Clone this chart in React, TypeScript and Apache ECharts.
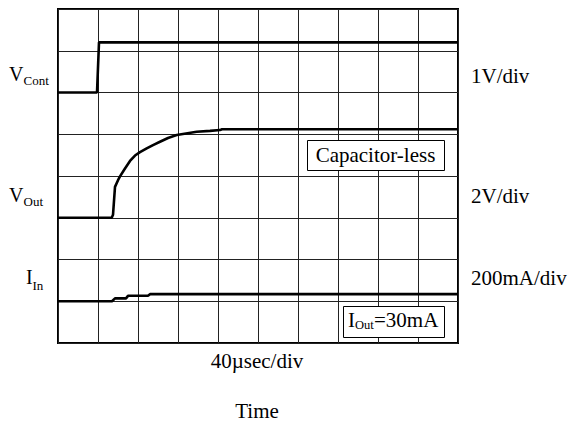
import React, { useEffect, useRef } from "react";
import * as echarts from "echarts";

// Time axis (µs), 40 µs per division, 10 divisions
const timeTicks = [0, 40, 80, 120, 160, 200, 240, 280, 320, 360, 400];
// Vertical axis in screen divisions (8 divisions)
const divTicks = [0, 1, 2, 3, 4, 5, 6, 7, 8];

// V_Cont trace (divisions)
const vContTime = [0, 39, 41, 400];
const vContLevel = [6.0, 6.0, 7.2, 7.2];

// V_Out trace (divisions)
const vOutTime = [0, 53.7, 55, 57, 60, 62, 67, 72, 77, 82, 88.7, 95, 102, 110, 118.7, 128, 138.7, 152, 162, 164, 400];
const vOutLevel = [3.0, 3.0, 3.07, 3.74, 3.9, 3.99, 4.18, 4.36, 4.49, 4.57, 4.66, 4.74, 4.82, 4.91, 4.98, 5.02, 5.06, 5.08, 5.1, 5.12, 5.12];

// I_In trace (divisions)
const iInTime = [0, 54, 57, 68, 70, 90, 92, 400];
const iInLevel = [1.0, 1.0, 1.07, 1.07, 1.13, 1.13, 1.17, 1.17];

const rightLabels = ["1V/div", "2V/div", "200mA/div"];
const xLabel = "40µsec/div";
const axisTitle = "Time";
const boxLabel = "Capacitor-less";

const FONT = "'Liberation Serif', 'Times New Roman', serif";

const zip = (xs: number[], ys: number[]) => xs.map((x, i) => [x, ys[i]]);

export default function App() {
  const ref = useRef<HTMLDivElement>(null);
  useEffect(() => {
    if (!ref.current) return;
    const chart = echarts.init(ref.current, undefined, { renderer: "svg" });
    const txt = (x: number, y: number, text: string, size: number, align = "left") => ({
      type: "text",
      x,
      y,
      z: 110,
      style: {
        text,
        fontSize: size,
        fontFamily: FONT,
        fill: "#000",
        align,
        verticalAlign: "middle",
      },
    });
    const lineSeries = (name: string, xs: number[], ys: number[]) => ({
      type: "line",
      name,
      data: zip(xs, ys),
      showSymbol: false,
      symbol: "none",
      lineStyle: { color: "#000", width: 2.6 },
      itemStyle: { color: "#000" },
      z: 5,
    });
    chart.setOption({
      animation: false,
      backgroundColor: "#fff",
      grid: {
        left: 58,
        top: 9,
        width: 400,
        height: 334,
        show: true,
        borderColor: "#000",
        borderWidth: 2,
        backgroundColor: "transparent",
      },
      xAxis: {
        type: "value",
        min: timeTicks[0],
        max: timeTicks[timeTicks.length - 1],
        interval: timeTicks[1] - timeTicks[0],
        axisLabel: { show: false },
        axisTick: { show: false },
        axisLine: { show: false },
        splitLine: { show: true, lineStyle: { color: "#222", width: 1 } },
      },
      yAxis: {
        type: "value",
        min: divTicks[0],
        max: divTicks[divTicks.length - 1],
        interval: divTicks[1] - divTicks[0],
        axisLabel: { show: false },
        axisTick: { show: false },
        axisLine: { show: false },
        splitLine: { show: true, lineStyle: { color: "#222", width: 1 } },
      },
      series: [
        lineSeries("V_Cont", vContTime, vContLevel),
        lineSeries("V_Out", vOutTime, vOutLevel),
        lineSeries("I_In", iInTime, iInLevel),
      ],
      graphic: [
        // left labels
        txt(9, 74, "V", 20),
        txt(23.5, 80, "Cont", 13),
        txt(9, 194.6, "V", 20),
        txt(23.5, 201, "Out", 13),
        txt(26, 276.6, "I", 20),
        txt(32.5, 285, "In", 13),
        // right labels
        txt(471, 75.5, rightLabels[0], 21),
        txt(471, 195.5, rightLabels[1], 21),
        txt(471, 277.5, rightLabels[2], 21),
        // boxes
        {
          type: "rect",
          z: 100,
          shape: { x: 307.5, y: 140.5, width: 137, height: 30 },
          style: { fill: "#fff", stroke: "#000", lineWidth: 1 },
        },
        txt(375.5, 154.6, boxLabel, 21, "center"),
        {
          type: "rect",
          z: 100,
          shape: { x: 343.5, y: 306.5, width: 101, height: 31 },
          style: { fill: "#fff", stroke: "#000", lineWidth: 1 },
        },
        txt(348, 319.6, "I", 21),
        txt(355, 325, "Out", 12.5),
        txt(374, 319.6, "=30mA", 21),
        // bottom labels
        txt(257, 361.2, xLabel, 21, "center"),
        txt(257, 411.2, axisTitle, 21, "center"),
      ],
    });
    return () => chart.dispose();
  }, []);
  return (
    <div
      ref={ref}
      style={{ position: "fixed", left: 0, top: 0, width: 569, height: 423 }}
    />
  );
}
